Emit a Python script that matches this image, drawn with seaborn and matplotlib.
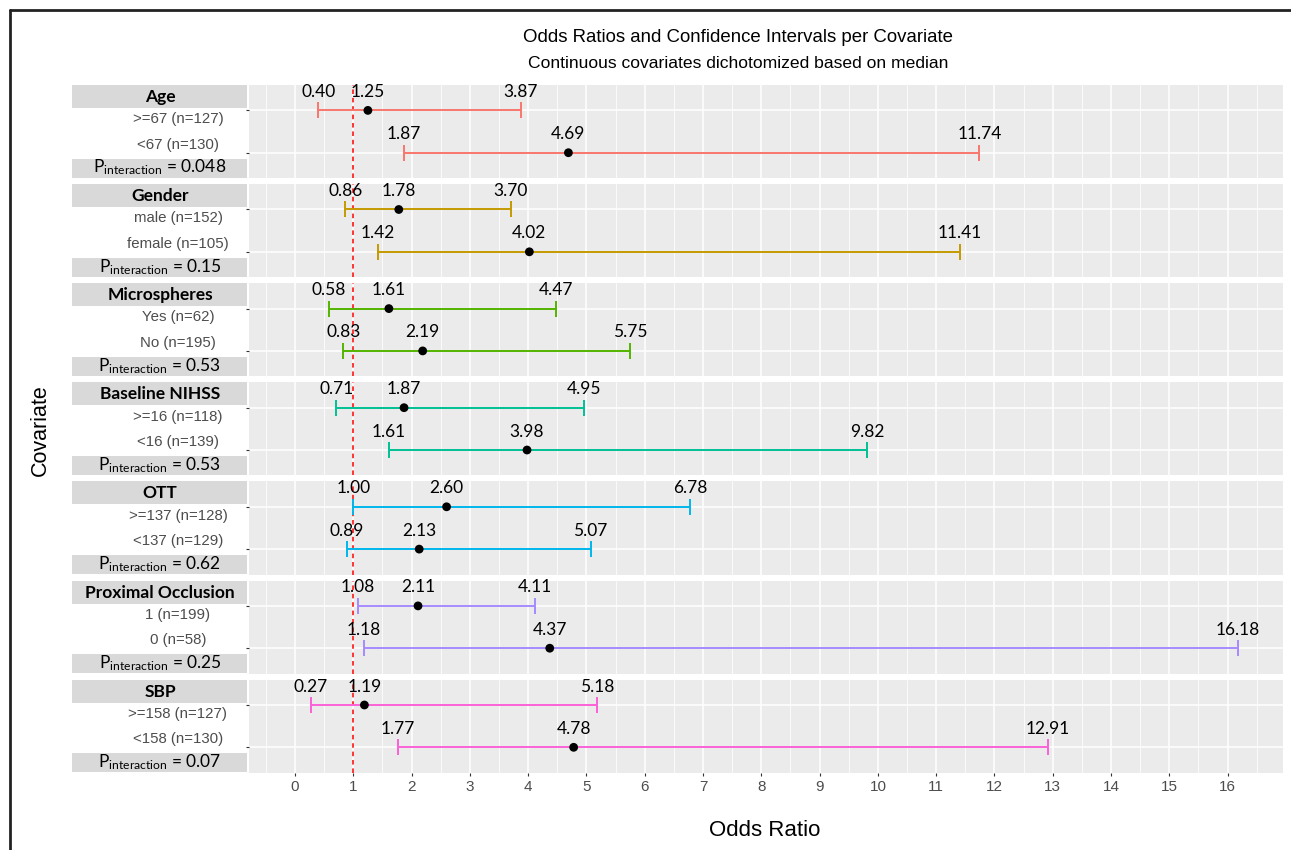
import matplotlib
matplotlib.use("Agg")
import matplotlib.pyplot as plt
import matplotlib.transforms as mtransforms
from matplotlib.patches import Rectangle
from matplotlib.lines import Line2D
import numpy as np
import pandas as pd
import seaborn as sns

# ---------------- data ----------------
covariates = ["Age", "Gender", "Microspheres", "Baseline NIHSS", "OTT",
              "Proximal Occlusion", "SBP"]
subgroup_labels = [
    [">=67 (n=127)", "<67 (n=130)"],
    ["male (n=152)", "female (n=105)"],
    ["Yes (n=62)", "No (n=195)"],
    [">=16 (n=118)", "<16 (n=139)"],
    [">=137 (n=128)", "<137 (n=129)"],
    ["1 (n=199)", "0 (n=58)"],
    [">=158 (n=127)", "<158 (n=130)"],
]
odds_ratio = [[1.25, 4.69], [1.78, 4.02], [1.61, 2.19], [1.87, 3.98],
              [2.60, 2.13], [2.11, 4.37], [1.19, 4.78]]
ci_lower = [[0.40, 1.87], [0.86, 1.42], [0.58, 0.83], [0.71, 1.61],
            [1.00, 0.89], [1.08, 1.18], [0.27, 1.77]]
ci_upper = [[3.87, 11.74], [3.70, 11.41], [4.47, 5.75], [4.95, 9.82],
            [6.78, 5.07], [4.11, 16.18], [5.18, 12.91]]
p_interaction = ["0.048", "0.15", "0.53", "0.53", "0.62", "0.25", "0.07"]
palette = ["#F8766D", "#C49A00", "#53B400", "#00C094", "#00B6EB",
           "#A58AFF", "#FB61D7"]
x_ticks = list(range(0, 17))
reference_line = 1

rows = []
for ci, cov in enumerate(covariates):
    for k in range(2):
        rows.append(dict(covariate=cov, subgroup=subgroup_labels[ci][k],
                         row=k + 1, OR=odds_ratio[ci][k],
                         lo=ci_lower[ci][k], hi=ci_upper[ci][k]))
df = pd.DataFrame(rows)

# ---------------- style ----------------
sns.set_theme(style="darkgrid", rc={
    "axes.facecolor": "#EBEBEB",
    "grid.color": "white",
    "axes.edgecolor": "none",
})
plt.rcParams["font.family"] = ["Liberation Sans", "DejaVu Sans"]
plt.rcParams["mathtext.fontset"] = "custom"
plt.rcParams["mathtext.rm"] = "Lato"
plt.rcParams["mathtext.it"] = "Lato:italic"
plt.rcParams["mathtext.bf"] = "Lato:bold"

W, H = 1291, 850
fig = plt.figure(figsize=(W / 100, H / 100), dpi=100)
fig.patch.set_facecolor("white")

left_px, right_px = 249, 1283
top0, ph, step = 85, 93.1, 99.1
lab_l, lab_r = 72, 247


def fx(px):
    return px / W


def fy(py):
    return 1 - py / H


for i, cov in enumerate(covariates):
    top = top0 + i * step
    ax = fig.add_axes([fx(left_px), fy(top + ph), (right_px - left_px) / W, ph / H])
    sub = df[df.covariate == cov]
    col = palette[i]

    ax.set_xlim(-0.79, 16.95)
    ax.set_ylim(2.6, 0.4)
    ax.set_xticks(x_ticks)
    ax.set_xticks(np.arange(-0.5, 17, 1), minor=True)
    ax.set_yticks([1, 2])
    ax.set_yticklabels(["", ""])
    ax.grid(which="major", color="white", lw=1.1)
    ax.grid(which="minor", axis="x", color="white", lw=0.55)
    ax.set_axisbelow(True)
    for s in ax.spines.values():
        s.set_visible(False)
    ax.tick_params(axis="y", which="major", left=True, length=2.5, width=0.8,
                   color="#333333", pad=1)
    ax.tick_params(which="minor", length=0)
    if i == len(covariates) - 1:
        ax.tick_params(axis="x", which="major", bottom=True, length=2.5,
                       width=0.8, color="#333333", labelsize=11,
                       labelcolor="#4D4D4D", pad=3)
    else:
        ax.tick_params(axis="x", which="major", bottom=False, labelbottom=False)

    ax.axvline(reference_line, color="#FF0000", lw=1.1, ls=(0, (3, 2.5)), zorder=2)

    ax.errorbar(sub["OR"], sub["row"],
                xerr=[sub["OR"] - sub["lo"], sub["hi"] - sub["OR"]],
                fmt="none", ecolor=col, elinewidth=1.4, capsize=6,
                capthick=1.4, zorder=3)
    sns.scatterplot(data=sub, x="OR", y="row", color="black", s=40,
                    edgecolor="none", ax=ax, zorder=4, legend=False)
    ax.set_xlabel("")
    ax.set_ylabel("")

    for _, r in sub.iterrows():
        for v in (r["lo"], r["OR"], r["hi"]):
            ax.annotate(f"{v:.2f}", xy=(v, r["row"]), xytext=(0, 7.5),
                        textcoords="offset points", ha="center", va="bottom",
                        fontsize=12.5, family="Lato", color="black", zorder=5)

    # left label column
    trans = mtransforms.blended_transform_factory(fig.transFigure, ax.transData)
    for _, r in sub.iterrows():
        off = 0.21 if r["row"] == 1 else -0.19
        ax.text(fx(178), r["row"] + off, r["subgroup"], transform=trans,
                ha="center", va="center", fontsize=10.8, color="#4D4D4D",
                clip_on=False)

    hb = 23
    fig.add_artist(Rectangle((fx(lab_l), fy(top + hb)), (lab_r - lab_l) / W, hb / H,
                             transform=fig.transFigure, facecolor="#D9D9D9",
                             edgecolor="none"))
    fig.text(fx(160), fy(top + hb / 2 + 0.5), cov, ha="center", va="center",
             fontsize=12.5, fontweight="bold", family="Lato", color="black")

    pb = 19
    fig.add_artist(Rectangle((fx(lab_l), fy(top + ph - 0.5)), (lab_r - lab_l) / W, pb / H,
                             transform=fig.transFigure, facecolor="#D9D9D9",
                             edgecolor="none"))
    fig.text(fx(160), fy(top + ph - pb / 2 - 1), r"P$_{\mathrm{interaction}}$ = " + p_interaction[i],
             ha="center", va="center", fontsize=12.5, family="Lato", color="black")

# titles
fig.text(fx(738), fy(38), "Odds Ratios and Confidence Intervals per Covariate",
         ha="center", va="center", fontsize=13.4, color="black")
fig.text(fx(738), fy(64), "Continuous covariates dichotomized based on median",
         ha="center", va="center", fontsize=12.6, color="black")
fig.text(fx(765), fy(830), "Odds Ratio", ha="center", va="center",
         fontsize=16, color="black")
fig.text(fx(40), fy(430), "Covariate", ha="center", va="center",
         fontsize=15.5, color="black", rotation=90)

# frame lines
fig.add_artist(Line2D([fx(10), 1.01], [fy(10), fy(10)], transform=fig.transFigure,
                      color="#222222", lw=2))
fig.add_artist(Line2D([fx(10), fx(10)], [fy(10), -0.01], transform=fig.transFigure,
                      color="#222222", lw=2))

fig.savefig("out.png", dpi=100)
